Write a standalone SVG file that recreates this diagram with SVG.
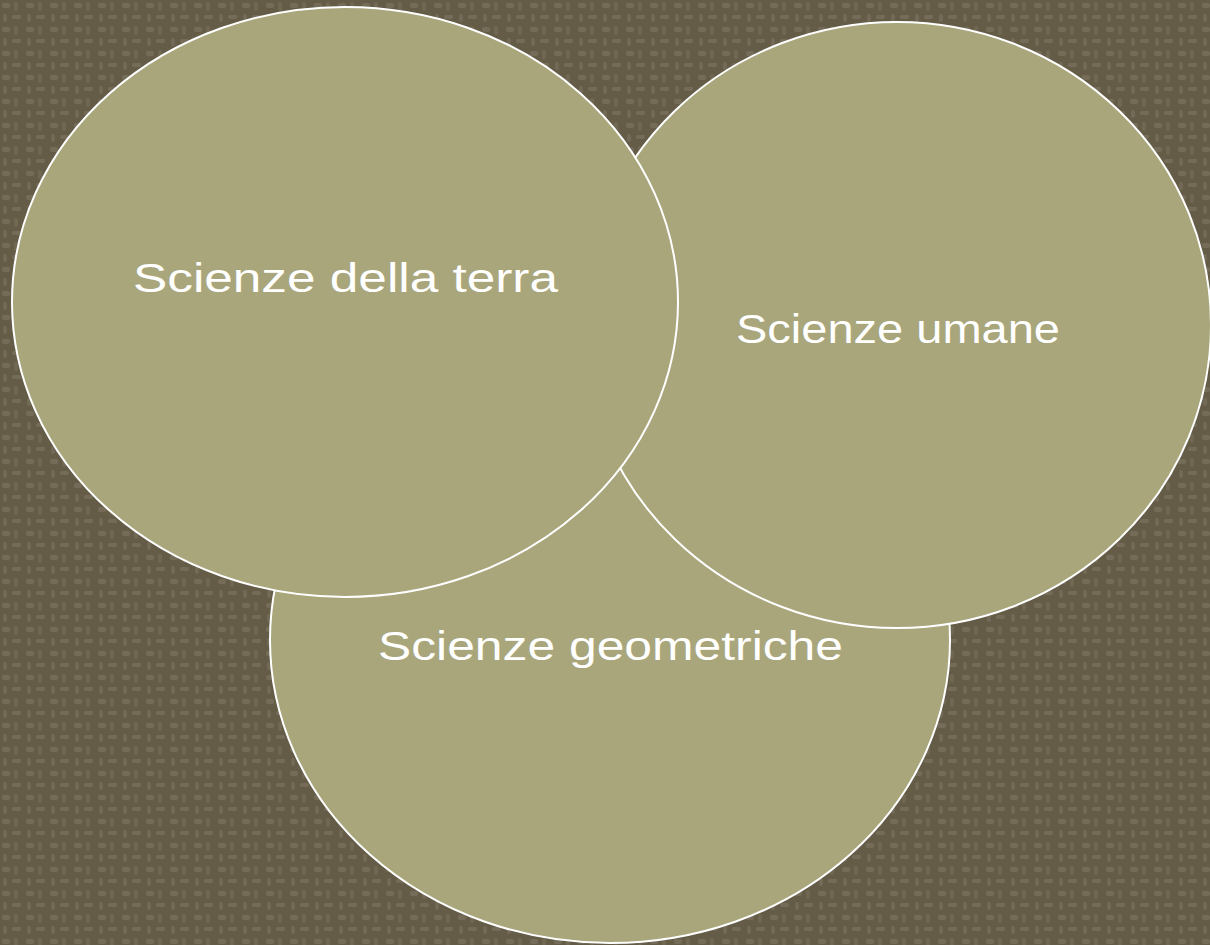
<svg xmlns="http://www.w3.org/2000/svg" width="1210" height="945" viewBox="0 0 1210 945">
<defs>
<pattern id="tex" width="24" height="24" patternUnits="userSpaceOnUse">
<rect width="24" height="24" fill="#645c47"/>
<rect x="2" y="3" width="8" height="5" rx="2" fill="#746c58"/>
<rect x="14" y="2" width="4" height="9" rx="2" fill="#706853"/>
<rect x="3" y="14" width="4" height="8" rx="2" fill="#726a56"/>
<rect x="12" y="15" width="9" height="4" rx="2" fill="#746c58"/>
</pattern>
<style>
.c{fill:#a9a67c;stroke:#ffffff;stroke-width:2}
.t{font-family:"Comic Sans MS","Liberation Sans","DejaVu Sans",sans-serif;font-size:40px;fill:#ffffff}
</style>
</defs>
<rect width="1210" height="945" fill="url(#tex)"/>
<g id="geometriche">
<ellipse class="c" cx="610" cy="640" rx="340" ry="303"/>
<text class="t" x="378" y="660" textLength="465" lengthAdjust="spacingAndGlyphs">Scienze geometriche</text>
</g>
<g id="umane">
<ellipse class="c" cx="897" cy="325" rx="314" ry="303"/>
<text class="t" x="736" y="343" textLength="324" lengthAdjust="spacingAndGlyphs">Scienze umane</text>
</g>
<g id="terra">
<ellipse class="c" cx="345" cy="302" rx="333" ry="295"/>
<text class="t" x="133" y="292" textLength="425" lengthAdjust="spacingAndGlyphs">Scienze della terra</text>
</g>
<g id="connectors"/>
</svg>
